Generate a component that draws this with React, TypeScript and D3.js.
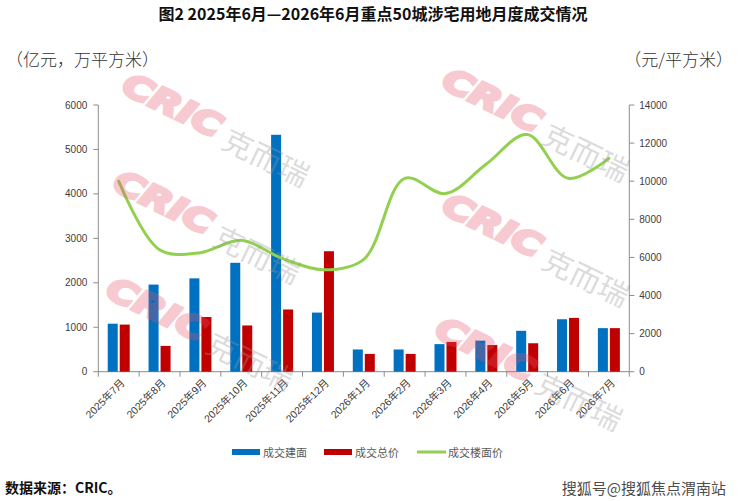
import * as d3 from "d3";

const months = [
  "2025年7月", "2025年8月", "2025年9月", "2025年10月", "2025年11月", "2025年12月",
  "2026年1月", "2026年2月", "2026年3月", "2026年4月", "2026年5月", "2026年6月", "2026年7月",
];
// 成交建面 (万平方米)
const areaValues = [1080, 1960, 2100, 2450, 5330, 1330, 500, 500, 620, 700, 920, 1180, 980];
// 成交总价 (亿元)
const totalValues = [1060, 580, 1230, 1040, 1400, 2710, 400, 400, 670, 600, 640, 1210, 980];
// 成交楼面价 (元/平方米)
const priceValues = [10000, 6400, 6250, 6900, 5950, 5350, 5900, 10150, 9350, 10900, 12450, 10150, 11200];

const leftTicks = [0, 1000, 2000, 3000, 4000, 5000, 6000];
const rightTicks = [0, 2000, 4000, 6000, 8000, 10000, 12000, 14000];

const legendItems = [
  { name: "成交建面", color: "#0070C0", kind: "bar" },
  { name: "成交总价", color: "#C00000", kind: "bar" },
  { name: "成交楼面价", color: "#92D050", kind: "line" },
];

// watermark anchors (baseline start of "CRIC")
const marks = [
  [120, 92], [111, 189], [104, 296],
  [440, 87], [440, 212], [433, 336],
];

const W = 740;
const H = 501;
const plot = { left: 98.3, right: 629.3, top: 105, bottom: 371.7 };
const cjk = "'Noto Sans CJK SC', 'Noto Sans', sans-serif";
const num = "'Liberation Sans', Arial, 'Noto Sans CJK SC', sans-serif";

export default function App() {
  const x = d3.scaleBand().domain(months).range([plot.left, plot.right]);
  const yL = d3.scaleLinear().domain([0, 6000]).range([plot.bottom, plot.top]);
  const yR = d3.scaleLinear().domain([0, 14000]).range([plot.bottom, plot.top]);
  const cx = (m) => x(m) + x.bandwidth() / 2;

  const line = d3
    .line()
    .x((d, i) => cx(months[i]))
    .y((d) => yR(d))
    .curve(d3.curveCatmullRom.alpha(0.5));

  const barW = 10;

  return (
    <div style={{ position: "absolute", left: 0, top: 0 }}>
      <svg width={W} height={H} style={{ display: "block", background: "#fff" }}>
        <text x={373} y={20} textAnchor="middle" fontFamily={cjk} fontWeight="bold" fontSize={16} fill="#111">
          图2 2025年6月—2026年6月重点50城涉宅用地月度成交情况
        </text>

        <text x={6} y={58} dominantBaseline="central" fontFamily={cjk} fontSize={17} fill="#333" fontWeight={300}>
          （亿元，万平方米）
        </text>
        <text x={733} y={58} textAnchor="end" dominantBaseline="central" fontFamily={cjk} fontSize={17} fill="#333" fontWeight={300}>
          （元/平方米）
        </text>

        {/* left axis */}
        <line x1={plot.left} x2={plot.left} y1={plot.top} y2={plot.bottom} stroke="#8c8c8c" />
        {leftTicks.map((t) => (
          <g key={"l" + t}>
            <line x1={plot.left - 5} x2={plot.left} y1={yL(t)} y2={yL(t)} stroke="#8c8c8c" />
            <text x={plot.left - 11} y={yL(t)} textAnchor="end" dominantBaseline="central" fontFamily={num} fontSize={10} fill="#404040">
              {t}
            </text>
          </g>
        ))}

        {/* right axis */}
        <line x1={plot.right} x2={plot.right} y1={plot.top} y2={plot.bottom} stroke="#8c8c8c" />
        {rightTicks.map((t) => (
          <g key={"r" + t}>
            <line x1={plot.right} x2={plot.right + 5} y1={yR(t)} y2={yR(t)} stroke="#8c8c8c" />
            <text x={plot.right + 10} y={yR(t)} dominantBaseline="central" fontFamily={num} fontSize={10} fill="#404040">
              {t}
            </text>
          </g>
        ))}

        {/* bottom axis */}
        <line x1={plot.left} x2={plot.right} y1={plot.bottom} y2={plot.bottom} stroke="#8c8c8c" />
        {months.map((m) => (
          <line key={"t" + m} x1={x(m)} x2={x(m)} y1={plot.bottom} y2={plot.bottom + 5} stroke="#8c8c8c" />
        ))}
        <line x1={plot.right} x2={plot.right} y1={plot.bottom} y2={plot.bottom + 5} stroke="#8c8c8c" />
        {months.map((m) => (
          <text
            key={"x" + m}
            transform={`translate(${cx(m) + 4},${plot.bottom + 9}) rotate(-45)`}
            textAnchor="end"
            dominantBaseline="central"
            fontFamily={num}
            fontSize={10.5}
            fill="#404040"
          >
            {m}
          </text>
        ))}

        {/* bars */}
        {months.map((m, i) => (
          <g key={"b" + m}>
            <rect x={cx(m) - 1 - barW} y={yL(areaValues[i])} width={barW} height={plot.bottom - yL(areaValues[i])} fill="#0070C0" />
            <rect x={cx(m) + 1} y={yL(totalValues[i])} width={barW} height={plot.bottom - yL(totalValues[i])} fill="#C00000" />
          </g>
        ))}

        <path d={line(priceValues)} fill="none" stroke="#92D050" strokeWidth={3} strokeLinecap="round" />

        {/* watermarks */}
        {marks.map(([mx, my], i) => (
          <g key={"w" + i} transform={`translate(${mx},${my}) rotate(26)`}>
            <g opacity={0.3}>
              <text x={0} y={0} fontFamily="'DejaVu Sans', sans-serif" fontWeight="900" fontStyle="italic" fontSize={32}
                textLength={106} lengthAdjust="spacingAndGlyphs" fill="#e8546b" stroke="#e8546b" strokeWidth={3}
                strokeLinejoin="miter">
                CRIC
              </text>
            </g>
            <text x={114} y={6} fontFamily={cjk} fontSize={29} textLength={92} lengthAdjust="spacingAndGlyphs"
              fill="#999" fillOpacity={0.35}>
              克而瑞
            </text>
          </g>
        ))}

        {/* legend */}
        {legendItems.map((it, i) => {
          const lx = [232, 324, 417][i];
          return (
            <g key={it.name}>
              {it.kind === "bar" ? (
                <rect x={lx} y={449} width={28} height={6} fill={it.color} />
              ) : (
                <line x1={lx} x2={lx + 29} y1={452} y2={452} stroke={it.color} strokeWidth={3} />
              )}
              <text x={lx + 31} y={452} dominantBaseline="central" fontFamily={cjk} fontSize={11} fill="#595959">
                {it.name}
              </text>
            </g>
          );
        })}

        <text x={5} y={487} dominantBaseline="central" fontFamily={cjk} fontWeight="bold" fontSize={14} fill="#111">
          数据来源：CRIC。
        </text>
        <text x={726} y={487} textAnchor="end" dominantBaseline="central" fontFamily={cjk} fontSize={15} fill="#4d4d4d">
          搜狐号@搜狐焦点渭南站
        </text>
      </svg>
    </div>
  );
}
